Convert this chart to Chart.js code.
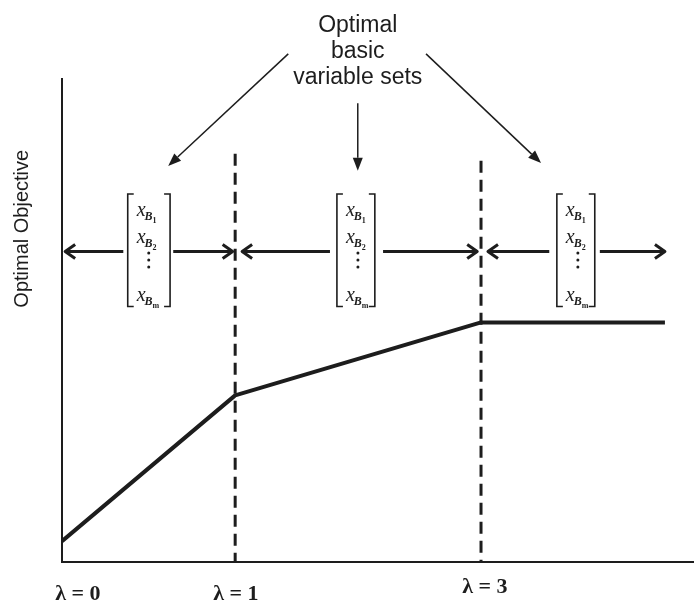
<!DOCTYPE html>
<html>
<head>
<meta charset="utf-8">
<script src="https://cdn.jsdelivr.net/npm/chart.js@4.4.0/dist/chart.umd.min.js"></script>
<style>
  html, body { margin: 0; padding: 0; background: #fff; }
  #wrap { width: 694px; height: 604px; }
</style>
</head>
<body>
<div id="wrap"><canvas id="chart" width="694" height="604"></canvas></div>
<script>
// breakpoints of lambda along the horizontal axis (axis runs 0..100)
const breakLabels = ['λ = 0', 'λ = 1', 'λ = 3'];
const lambdaPos = [0, 27.4, 66.3, 95.4];
// optimal objective value at those points (axis runs 0..100)
const objective = [4.3, 34.5, 49.6, 49.6];
// how high the dashed dividers reach
const dividerTops = [84.5, 83.1];
// subscripts of the basic variables shown in each bracket
const basisRows = ['1', '2', 'm'];
const titleLines = ['Optimal', 'basic', 'variable sets'];
const axisTitle = 'Optimal Objective';

const ink = '#1d1d1d';

// where the annotations sit, in axis units
const arrowLevel = 64.3;
const arrowSegments = [[0.5, 9.7], [27.0, 17.6], [28.5, 42.4], [65.7, 50.8], [67.4, 77.1], [95.4, 85.1]]; // [tip, tail]
const brackets = [[10.4, 17.1], [43.5, 49.5], [78.3, 84.3]];
const bracketTop = 76.2, bracketBottom = 52.9;
const pointerArrows = [[35.8, 105.2, 16.8, 82.0], [46.8, 95.0, 46.8, 81.0], [57.6, 105.2, 75.8, 82.6]];
const titleX = 46.8, titleBaselines = [109.7, 104.3, 98.9];
const labelX = [2.5, 27.5, 66.9], labelY = [-7.9, -7.9, -6.4];
const axisTitleX = -6.3, axisTitleY = 69.0;

function drawPointer(ctx, x0, y0, x1, y1) {
    const a = Math.atan2(y1 - y0, x1 - x0);
    const L = 13, W = 5;
    const bx = x1 - L * Math.cos(a), by = y1 - L * Math.sin(a);
    ctx.beginPath();
    ctx.moveTo(x0, y0);
    ctx.lineTo(bx, by);
    ctx.stroke();
    ctx.beginPath();
    ctx.moveTo(x1, y1);
    ctx.lineTo(bx - W * Math.sin(a), by + W * Math.cos(a));
    ctx.lineTo(bx + W * Math.sin(a), by - W * Math.cos(a));
    ctx.closePath();
    ctx.fill();
}

function drawBasis(ctx, x, y, sub) {
    ctx.textAlign = 'left';
    ctx.textBaseline = 'alphabetic';
    ctx.font = 'italic 20px "Liberation Serif"';
    ctx.fillText('x', x, y);
    let w = ctx.measureText('x').width;
    ctx.font = 'italic bold 12px "Liberation Serif"';
    ctx.fillText('B', x + w - 1, y + 4);
    w += ctx.measureText('B').width - 1;
    ctx.font = 'bold 8px "Liberation Serif"';
    ctx.fillText(sub, x + w, y + 7);
}

const diagram = {
    id: 'diagram',
    afterDraw(chart) {
        const ctx = chart.ctx;
        const X = v => chart.scales.x.getPixelForValue(v);
        const Y = v => chart.scales.y.getPixelForValue(v);
        ctx.save();
        ctx.strokeStyle = ink;
        ctx.fillStyle = ink;
        ctx.lineJoin = 'round';

        // double arrows between the dividers
        ctx.lineWidth = 3;
        arrowSegments.forEach(([tip, tail]) => {
            const y = Y(arrowLevel), xt = X(tip), xb = X(tail);
            const d = Math.sign(xt - xb);
            ctx.beginPath();
            ctx.moveTo(xb, y);
            ctx.lineTo(xt - d, y);
            ctx.stroke();
            ctx.beginPath();
            ctx.moveTo(xt - d * 10, y - 7);
            ctx.lineTo(xt, y);
            ctx.lineTo(xt - d * 10, y + 7);
            ctx.stroke();
        });

        // brackets with the basic variables
        brackets.forEach(([l, r]) => {
            const x1 = X(l), x2 = X(r), t = Y(bracketTop), b = Y(bracketBottom);
            ctx.lineWidth = 1.6;
            ctx.lineJoin = 'miter';
            ctx.beginPath();
            ctx.moveTo(x1 + 6, t); ctx.lineTo(x1, t); ctx.lineTo(x1, b); ctx.lineTo(x1 + 6, b);
            ctx.moveTo(x2 - 6, t); ctx.lineTo(x2, t); ctx.lineTo(x2, b); ctx.lineTo(x2 - 6, b);
            ctx.stroke();
            drawBasis(ctx, x1 + 9, t + 22, basisRows[0]);
            drawBasis(ctx, x1 + 9, t + 49, basisRows[1]);
            [59, 66, 73].forEach(dy => {
                ctx.beginPath();
                ctx.arc(x1 + 21, t + dy, 1.5, 0, Math.PI * 2);
                ctx.fill();
            });
            drawBasis(ctx, x1 + 9, t + 107, basisRows[2]);
        });

        // pointers from the caption
        ctx.lineWidth = 1.5;
        pointerArrows.forEach(([a, b, c, d]) => drawPointer(ctx, X(a), Y(b), X(c), Y(d)));

        // caption
        ctx.font = '23px "Liberation Sans", Arial, sans-serif';
        ctx.textAlign = 'center';
        ctx.textBaseline = 'alphabetic';
        titleLines.forEach((line, i) => ctx.fillText(line, X(titleX), Y(titleBaselines[i])));

        // lambda labels
        ctx.font = 'bold 22px "Liberation Serif"';
        breakLabels.forEach((s, i) => ctx.fillText(s, X(labelX[i]), Y(labelY[i])));

        // vertical axis title
        ctx.translate(X(axisTitleX), Y(axisTitleY));
        ctx.rotate(-Math.PI / 2);
        ctx.font = '20px "Liberation Sans", Arial, sans-serif';
        ctx.textBaseline = 'middle';
        ctx.fillText(axisTitle, 0, 0);
        ctx.restore();
    }
};

const dividers = dividerTops.map((top, i) => ({
    data: [{ x: lambdaPos[i + 1], y: top }, { x: lambdaPos[i + 1], y: 0 }],
    borderColor: ink,
    borderWidth: 3,
    borderDash: [12, 7],
    pointRadius: 0
}));

new Chart(document.getElementById('chart'), {
    type: 'scatter',
    data: {
        datasets: [{
            data: lambdaPos.map((x, i) => ({ x, y: objective[i] })),
            showLine: true,
            borderColor: ink,
            borderWidth: 4,
            borderJoinStyle: 'round',
            pointRadius: 0
        }, ...dividers.map(d => ({ ...d, showLine: true }))]
    },
    options: {
        responsive: false,
        animation: false,
        devicePixelRatio: 1,
        layout: { padding: { left: 62, right: 0, top: 79, bottom: 42 } },
        plugins: { legend: { display: false }, tooltip: { enabled: false } },
        scales: {
            x: {
                type: 'linear', min: 0, max: 100,
                grid: { display: false, drawTicks: false },
                ticks: { display: false },
                border: { color: ink, width: 2 }
            },
            y: {
                type: 'linear', min: 0, max: 100,
                grid: { display: false, drawTicks: false },
                ticks: { display: false },
                border: { color: ink, width: 2 }
            }
        }
    },
    plugins: [diagram]
});
</script>
</body>
</html>
